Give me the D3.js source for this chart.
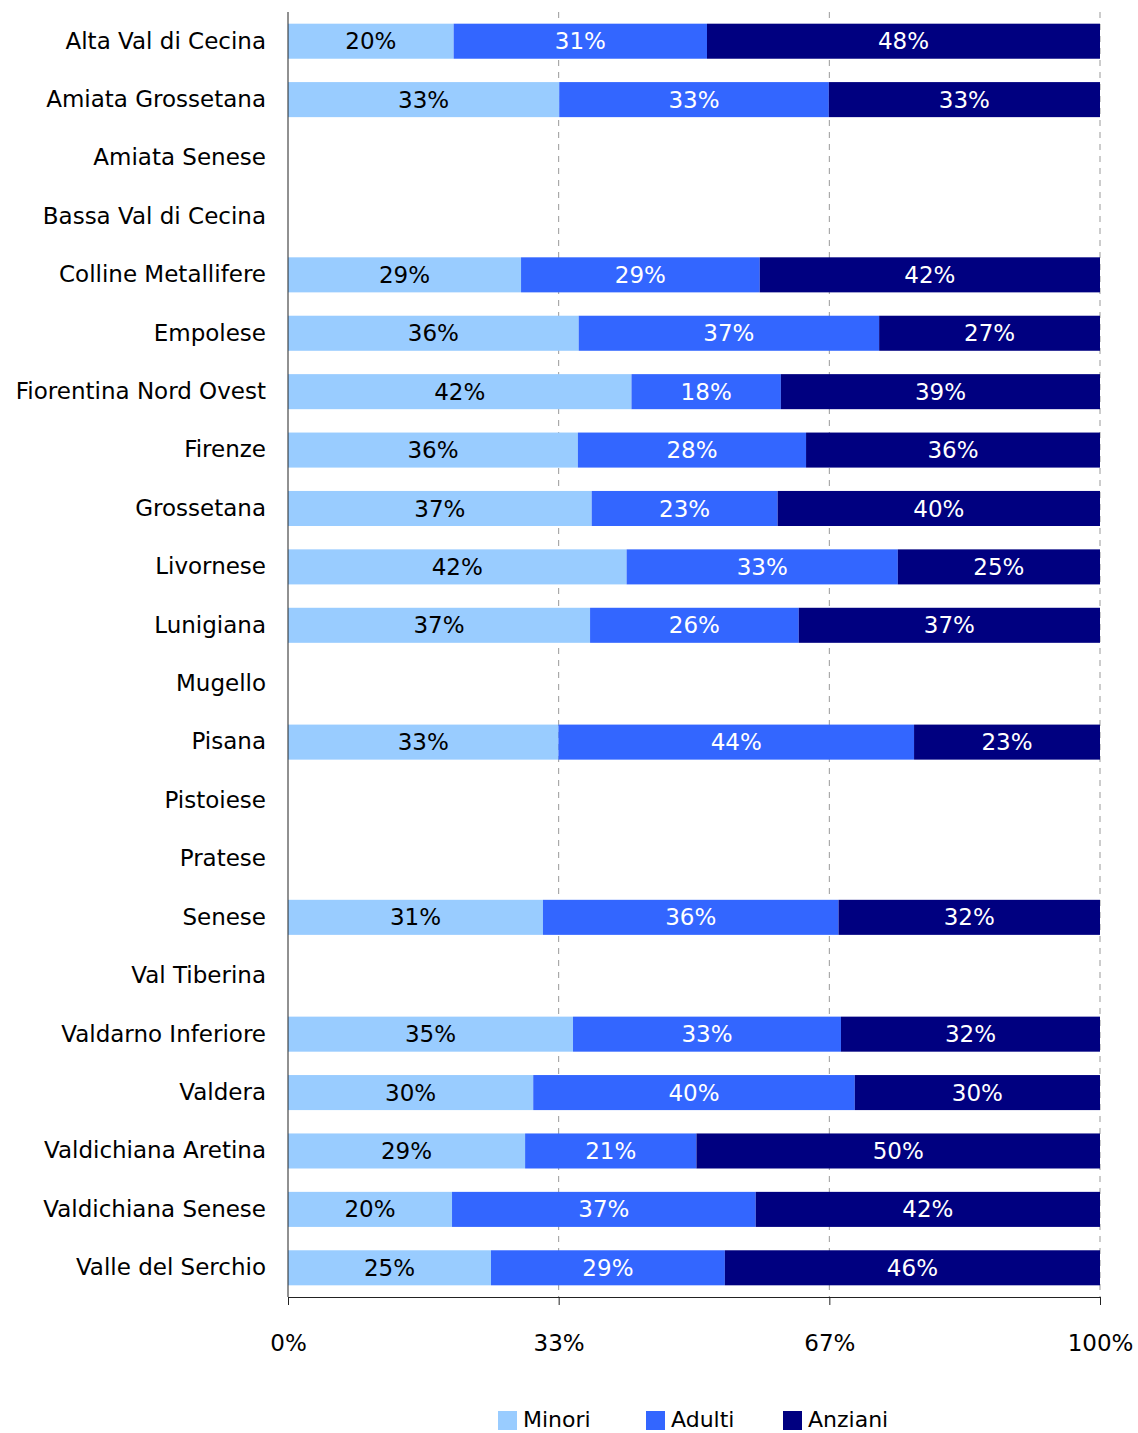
<!DOCTYPE html>
<html>
<head>
<meta charset="utf-8">
<script src="https://cdn.jsdelivr.net/npm/d3@7"></script>
<style>
  body { margin: 0; background: #fff; }
  text { font-family: "DejaVu Sans", "Liberation Sans", sans-serif; }
</style>
</head>
<body>
<div id="chart"></div>
<script>
// zone names, top to bottom
const zones = [
    "Alta Val di Cecina", "Amiata Grossetana", "Amiata Senese", "Bassa Val di Cecina",
    "Colline Metallifere", "Empolese", "Fiorentina Nord Ovest", "Firenze", "Grossetana",
    "Livornese", "Lunigiana", "Mugello", "Pisana", "Pistoiese", "Pratese", "Senese",
    "Val Tiberina", "Valdarno Inferiore", "Valdera", "Valdichiana Aretina",
    "Valdichiana Senese", "Valle del Serchio"
];

// shares in percent (null = no data)
const minori  = [20.4, 33.4, null, null, 28.7, 35.8, 42.3, 35.7, 37.4, 41.7, 37.2, null, 33.3, null, null, 31.4, null, 35.1, 30.2, 29.2, 20.2, 25.0];
const adulti  = [31.2, 33.2, null, null, 29.4, 37.0, 18.4, 28.1, 22.9, 33.4, 25.7, null, 43.8, null, null, 36.4, null, 33.0, 39.6, 21.1, 37.4, 28.8];
const anziani = [48.4, 33.4, null, null, 41.9, 27.2, 39.3, 36.2, 39.7, 24.9, 37.1, null, 22.9, null, null, 32.2, null, 31.9, 30.2, 49.7, 42.4, 46.2];

const seriesNames = ["Minori", "Adulti", "Anziani"];
const seriesColors = ["#99ccff", "#3366ff", "#000080"];
const labelColors = ["#000000", "#ffffff", "#ffffff"];
const tickValues = [0, 1 / 3, 2 / 3, 1];

const width = 1138, height = 1433;
const margin = {left: 288, right: 38, top: 12, bottom: 136};

const svg = d3.select("#chart").append("svg")
    .attr("width", width)
    .attr("height", height);

const x = d3.scaleLinear().domain([0, 1]).range([margin.left, width - margin.right]);
const y = d3.scaleBand().domain(zones).range([margin.top, height - margin.bottom]).paddingInner(0.4).paddingOuter(0.2);

// build rows for stacking
const rows = zones.map((z, i) => ({
    zone: z,
    Minori: minori[i],
    Adulti: adulti[i],
    Anziani: anziani[i]
}));

// dashed gridlines
svg.append("g")
    .selectAll("line")
    .data(tickValues.slice(1))
    .enter()
    .append("line")
    .attr("x1", d => x(d))
    .attr("x2", d => x(d))
    .attr("y1", margin.top)
    .attr("y2", height - margin.bottom)
    .attr("stroke", "#999999")
    .attr("stroke-width", 1)
    .attr("stroke-dasharray", "6,6");

// stacked bars
const dataRows = rows.filter(r => r.Minori != null);
const stack = d3.stack().keys(seriesNames).offset(d3.stackOffsetExpand);
const layers = stack(dataRows);

layers.forEach((layer, k) => {
    const g = svg.append("g");
    g.selectAll("rect")
        .data(layer)
        .enter()
        .append("rect")
        .attr("x", d => x(d[0]))
        .attr("width", d => x(d[1]) - x(d[0]))
        .attr("y", d => y(d.data.zone))
        .attr("height", y.bandwidth())
        .attr("fill", seriesColors[k]);

    g.selectAll("text")
        .data(layer)
        .enter()
        .append("text")
        .attr("x", d => (x(d[0]) + x(d[1])) / 2)
        .attr("y", d => y(d.data.zone) + y.bandwidth() / 2)
        .attr("dy", "0.35em")
        .attr("text-anchor", "middle")
        .attr("font-size", "23px")
        .attr("fill", labelColors[k])
        .text(d => Math.round(d.data[seriesNames[k]]) + "%");
});

// left axis with category names
const yAxis = svg.append("g")
    .attr("transform", `translate(${margin.left},0)`)
    .call(d3.axisLeft(y).tickSize(0).tickPadding(22));
yAxis.select(".domain").attr("stroke", "#222").attr("d", `M0,${margin.top}V${height - margin.bottom}`);
yAxis.selectAll("text").attr("font-size", "23px").attr("fill", "#000")
    .style("font-family", "'DejaVu Sans', sans-serif");

// bottom axis
const xAxis = svg.append("g")
    .attr("transform", `translate(0,${height - margin.bottom})`)
    .call(d3.axisBottom(x).tickValues(tickValues).tickSize(8).tickPadding(30)
        .tickFormat(d => Math.round(d * 100) + "%"));
xAxis.select(".domain").attr("stroke", "#222");
xAxis.selectAll(".tick line").attr("stroke", "#222");
xAxis.selectAll("text").attr("font-size", "23px").attr("fill", "#000")
    .style("font-family", "'DejaVu Sans', sans-serif");

// legend
const legendX = [498, 646, 783];
const legend = svg.append("g");
seriesNames.forEach((name, i) => {
    legend.append("rect")
        .attr("x", legendX[i])
        .attr("y", 1411)
        .attr("width", 19)
        .attr("height", 19)
        .attr("fill", seriesColors[i]);
    legend.append("text")
        .attr("x", legendX[i] + 25)
        .attr("y", 1427)
        .attr("font-size", "22px")
        .attr("fill", "#000")
        .text(name);
});
</script>
</body>
</html>
